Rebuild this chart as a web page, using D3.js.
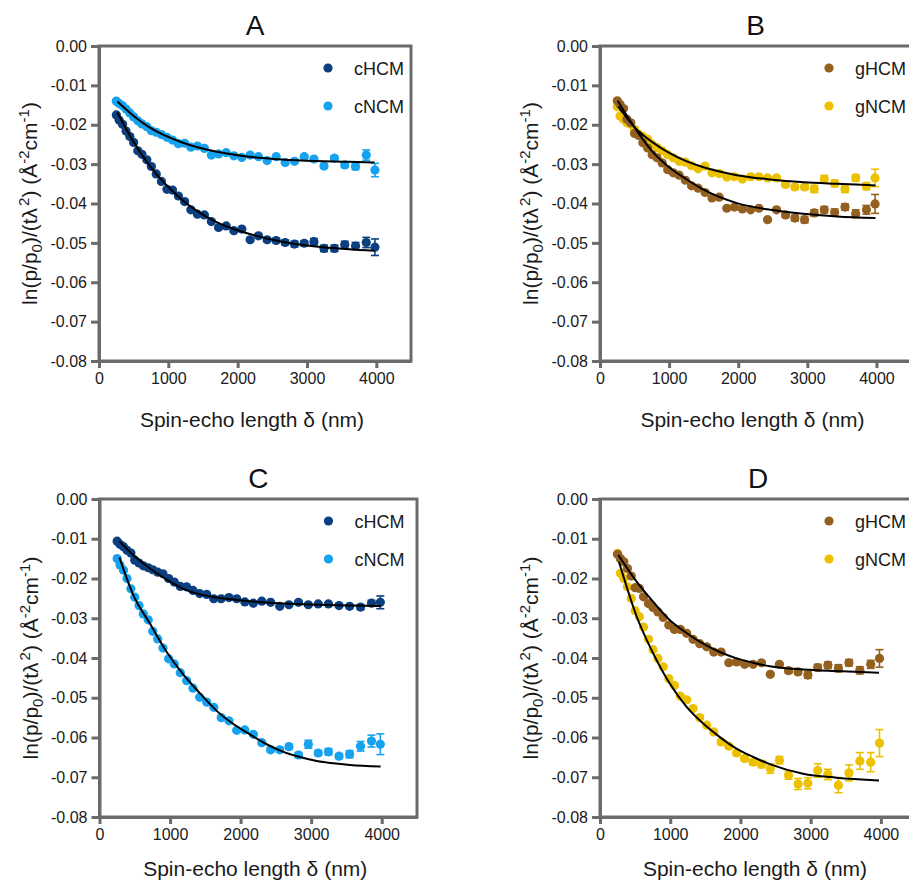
<!DOCTYPE html>
<html>
<head>
<meta charset="utf-8">
<script src="https://cdn.jsdelivr.net/npm/d3@7"></script>
<style>
  body { margin: 0; background: #fff; }
  svg { display: block; }
</style>
</head>
<body>
<svg id="chart" width="909" height="889"></svg>
<script>
// Spin-echo lengths (nm), shared by every series
const delta = [250, 290, 340, 390, 445, 500, 560, 620, 690, 755,
  825, 900, 980, 1060, 1145, 1235, 1325, 1420, 1520, 1620,
  1725, 1835, 1945, 2060, 2180, 2300, 2425, 2555, 2685, 2820,
  2960, 3100, 3245, 3395, 3545, 3700, 3855, 3980];

const xTicks = [0, 1000, 2000, 3000, 4000];
const yTicks = [0, -0.01, -0.02, -0.03, -0.04, -0.05, -0.06, -0.07, -0.08];

// Panel A
const cHCM_A = [-0.0175, -0.0188, -0.0199, -0.0216, -0.0230, -0.0245, -0.0266, -0.0275, -0.0289, -0.0306,
  -0.0325, -0.0344, -0.0364, -0.0366, -0.0381, -0.0395, -0.0416, -0.0427, -0.0429, -0.0446,
  -0.0461, -0.0457, -0.0469, -0.0465, -0.0492, -0.0482, -0.0492, -0.0494, -0.0499, -0.0503,
  -0.0501, -0.0497, -0.0514, -0.0514, -0.0505, -0.0508, -0.0499, -0.0511];
const cHCM_A_err = [0.0003, 0.0003, 0.0003, 0.0003, 0.0003, 0.0003, 0.0003, 0.0003, 0.0003, 0.0003,
  0.0003, 0.0003, 0.0003, 0.0003, 0.0003, 0.0003, 0.0003, 0.0003, 0.0003, 0.0003,
  0.0003, 0.0003, 0.0003, 0.0004, 0.0004, 0.0004, 0.0005, 0.0005, 0.0006, 0.0007,
  0.0006, 0.0008, 0.0008, 0.0008, 0.0009, 0.0009, 0.0013, 0.0021];
const cNCM_A = [-0.0140, -0.0146, -0.0152, -0.0160, -0.0170, -0.0180, -0.0190, -0.0198, -0.0205, -0.0215,
  -0.0219, -0.0225, -0.0232, -0.0239, -0.0248, -0.0247, -0.0257, -0.0254, -0.0260, -0.0277,
  -0.0274, -0.0271, -0.0279, -0.0283, -0.0277, -0.0281, -0.0291, -0.0281, -0.0296, -0.0293,
  -0.0281, -0.0287, -0.0305, -0.0285, -0.0302, -0.0306, -0.0277, -0.0315];
const cNCM_A_err = [0.0002, 0.0002, 0.0002, 0.0002, 0.0002, 0.0002, 0.0002, 0.0002, 0.0002, 0.0002,
  0.0002, 0.0002, 0.0002, 0.0002, 0.0002, 0.0002, 0.0002, 0.0002, 0.0002, 0.0002,
  0.0002, 0.0002, 0.0003, 0.0003, 0.0003, 0.0003, 0.0003, 0.0003, 0.0003, 0.0003,
  0.0004, 0.0004, 0.0005, 0.0006, 0.0006, 0.0008, 0.0013, 0.0017];
const fitA_cHCM_x = [266, 482, 722, 1201, 1681, 2161, 2640, 3121, 3600, 3974];
const fitA_cHCM_y = [-0.0169, -0.0239, -0.0302, -0.0391, -0.0446, -0.0477, -0.0497, -0.0509, -0.0516, -0.0520];
const fitA_cNCM_x = [266, 482, 722, 1201, 1681, 2161, 2640, 3121, 3600, 3974];
const fitA_cNCM_y = [-0.0141, -0.0175, -0.0206, -0.0245, -0.0268, -0.0281, -0.0288, -0.0292, -0.0294, -0.0296];

// Panel B
const gHCM_B = [-0.0139, -0.0148, -0.0159, -0.0186, -0.0195, -0.0222, -0.0227, -0.0246, -0.0259, -0.0276,
  -0.0284, -0.0297, -0.0314, -0.0322, -0.0328, -0.0341, -0.0355, -0.0361, -0.0372, -0.0386,
  -0.0384, -0.0412, -0.0409, -0.0414, -0.0416, -0.0412, -0.0441, -0.0416, -0.0429, -0.0437,
  -0.0441, -0.0424, -0.0416, -0.0423, -0.0409, -0.0426, -0.0416, -0.0401];
const gHCM_B_err = [0.0003, 0.0003, 0.0003, 0.0003, 0.0003, 0.0003, 0.0003, 0.0003, 0.0003, 0.0003,
  0.0003, 0.0003, 0.0003, 0.0003, 0.0003, 0.0003, 0.0003, 0.0003, 0.0003, 0.0003,
  0.0003, 0.0003, 0.0003, 0.0003, 0.0003, 0.0003, 0.0003, 0.0004, 0.0006, 0.0007,
  0.0008, 0.0008, 0.0008, 0.0009, 0.0008, 0.0010, 0.0011, 0.0024];
const gNCM_B = [-0.0154, -0.0178, -0.0186, -0.0195, -0.0199, -0.0212, -0.0224, -0.0230, -0.0237, -0.0250,
  -0.0258, -0.0266, -0.0276, -0.0284, -0.0293, -0.0295, -0.0304, -0.0312, -0.0305, -0.0322,
  -0.0324, -0.0333, -0.0332, -0.0338, -0.0332, -0.0332, -0.0335, -0.0335, -0.0352, -0.0358,
  -0.0358, -0.0363, -0.0338, -0.0349, -0.0363, -0.0335, -0.0356, -0.0335];
const gNCM_B_err = [0.0003, 0.0003, 0.0003, 0.0003, 0.0003, 0.0003, 0.0003, 0.0003, 0.0003, 0.0003,
  0.0003, 0.0003, 0.0003, 0.0003, 0.0003, 0.0003, 0.0003, 0.0003, 0.0003, 0.0003,
  0.0003, 0.0003, 0.0003, 0.0003, 0.0003, 0.0003, 0.0003, 0.0004, 0.0005, 0.0006,
  0.0006, 0.0009, 0.0009, 0.0008, 0.0009, 0.0008, 0.0009, 0.0022];
const fitB_gHCM_x = [256, 531, 773, 1014, 1256, 1498, 1981, 2464, 2947, 3430, 3986];
const fitB_gHCM_y = [-0.0139, -0.0215, -0.0271, -0.0310, -0.0339, -0.0365, -0.0399, -0.0416, -0.0426, -0.0433, -0.0437];
const fitB_gNCM_x = [266, 531, 773, 1014, 1256, 1498, 1981, 2464, 2947, 3430, 3986];
const fitB_gNCM_y = [-0.0154, -0.0212, -0.0246, -0.0273, -0.0293, -0.0308, -0.0328, -0.0339, -0.0346, -0.0350, -0.0354];

// Panel C
const cHCM_C = [-0.0106, -0.0114, -0.0120, -0.0129, -0.0136, -0.0154, -0.0161, -0.0168, -0.0173, -0.0178,
  -0.0184, -0.0188, -0.0200, -0.0209, -0.0220, -0.0221, -0.0230, -0.0238, -0.0240, -0.0251,
  -0.0251, -0.0248, -0.0251, -0.0259, -0.0262, -0.0257, -0.0260, -0.0270, -0.0266, -0.0260,
  -0.0266, -0.0264, -0.0264, -0.0268, -0.0270, -0.0272, -0.0262, -0.0260];
const cHCM_C_err = [0.0002, 0.0002, 0.0002, 0.0002, 0.0002, 0.0002, 0.0002, 0.0002, 0.0002, 0.0002,
  0.0002, 0.0002, 0.0002, 0.0002, 0.0002, 0.0002, 0.0002, 0.0002, 0.0002, 0.0002,
  0.0002, 0.0002, 0.0002, 0.0002, 0.0002, 0.0002, 0.0002, 0.0002, 0.0003, 0.0003,
  0.0003, 0.0003, 0.0003, 0.0003, 0.0004, 0.0006, 0.0007, 0.0016];
const cNCM_C = [-0.0150, -0.0166, -0.0179, -0.0200, -0.0226, -0.0247, -0.0268, -0.0289, -0.0304, -0.0333,
  -0.0352, -0.0375, -0.0402, -0.0415, -0.0437, -0.0457, -0.0476, -0.0499, -0.0511, -0.0524,
  -0.0550, -0.0558, -0.0582, -0.0581, -0.0592, -0.0613, -0.0631, -0.0631, -0.0623, -0.0644,
  -0.0617, -0.0639, -0.0636, -0.0647, -0.0642, -0.0622, -0.0609, -0.0617];
const cNCM_C_err = [0.0002, 0.0002, 0.0002, 0.0002, 0.0002, 0.0002, 0.0002, 0.0002, 0.0002, 0.0002,
  0.0002, 0.0002, 0.0002, 0.0002, 0.0002, 0.0002, 0.0002, 0.0002, 0.0003, 0.0003,
  0.0003, 0.0003, 0.0003, 0.0003, 0.0004, 0.0004, 0.0005, 0.0005, 0.0006, 0.0006,
  0.0010, 0.0006, 0.0008, 0.0006, 0.0009, 0.0012, 0.0015, 0.0026];
const fitC_cHCM_x = [282, 480, 717, 953, 1189, 1425, 1661, 2133, 2605, 3078, 3550, 3984];
const fitC_cHCM_y = [-0.0106, -0.0141, -0.0175, -0.0203, -0.0226, -0.0240, -0.0248, -0.0257, -0.0263, -0.0266, -0.0268, -0.0269];
const fitC_cNCM_x = [282, 480, 717, 953, 1189, 1425, 1661, 1897, 2133, 2369, 2605, 2841, 3078, 3314, 3550, 3984];
const fitC_cNCM_y = [-0.0147, -0.0242, -0.0314, -0.0385, -0.0442, -0.0489, -0.0533, -0.0566, -0.0592, -0.0617,
  -0.0636, -0.0649, -0.0659, -0.0665, -0.0669, -0.0673];

// Panel D
const gHCM_D = [-0.0139, -0.0150, -0.0158, -0.0175, -0.0194, -0.0223, -0.0225, -0.0246, -0.0263, -0.0273,
  -0.0284, -0.0298, -0.0317, -0.0328, -0.0328, -0.0338, -0.0353, -0.0364, -0.0372, -0.0385,
  -0.0385, -0.0412, -0.0410, -0.0416, -0.0416, -0.0412, -0.0441, -0.0416, -0.0432, -0.0435,
  -0.0443, -0.0424, -0.0418, -0.0426, -0.0412, -0.0431, -0.0416, -0.0401];
const gHCM_D_err = [0.0003, 0.0003, 0.0003, 0.0003, 0.0003, 0.0003, 0.0003, 0.0003, 0.0003, 0.0003,
  0.0003, 0.0003, 0.0003, 0.0003, 0.0003, 0.0003, 0.0003, 0.0003, 0.0003, 0.0003,
  0.0003, 0.0003, 0.0003, 0.0003, 0.0003, 0.0003, 0.0003, 0.0004, 0.0006, 0.0006,
  0.0008, 0.0008, 0.0008, 0.0009, 0.0008, 0.0009, 0.0010, 0.0022];
const gNCM_D = [-0.0137, -0.0187, -0.0200, -0.0221, -0.0250, -0.0281, -0.0296, -0.0322, -0.0353, -0.0379,
  -0.0401, -0.0422, -0.0452, -0.0469, -0.0496, -0.0505, -0.0527, -0.0550, -0.0569, -0.0586,
  -0.0611, -0.0622, -0.0639, -0.0653, -0.0662, -0.0667, -0.0678, -0.0657, -0.0695, -0.0717,
  -0.0715, -0.0683, -0.0693, -0.0720, -0.0689, -0.0659, -0.0662, -0.0614];
const gNCM_D_err = [0.0003, 0.0003, 0.0003, 0.0003, 0.0003, 0.0003, 0.0003, 0.0003, 0.0003, 0.0003,
  0.0003, 0.0003, 0.0003, 0.0003, 0.0003, 0.0003, 0.0003, 0.0003, 0.0003, 0.0004,
  0.0005, 0.0005, 0.0006, 0.0006, 0.0007, 0.0009, 0.0012, 0.0009, 0.0010, 0.0014,
  0.0014, 0.0017, 0.0013, 0.0019, 0.0020, 0.0021, 0.0024, 0.0034];
const fitD_gHCM_x = [261, 521, 759, 996, 1233, 1470, 1707, 1944, 2181, 2418, 2892, 3367, 3973];
const fitD_gHCM_y = [-0.0141, -0.0208, -0.0259, -0.0305, -0.0337, -0.0364, -0.0385, -0.0401, -0.0412, -0.0421, -0.0429, -0.0433, -0.0437];
const fitD_gNCM_x = [270, 521, 759, 996, 1233, 1470, 1707, 1944, 2181, 2418, 2892, 3367, 3973];
const fitD_gNCM_y = [-0.0158, -0.0295, -0.0389, -0.0465, -0.0523, -0.0565, -0.0599, -0.0628, -0.0649, -0.0667, -0.0691, -0.0701, -0.0708];

const FONT = '"Liberation Sans", Arial, Helvetica, sans-serif';
const AXIS = '#6b6b6b';
const COLORS = {
  cHCM: '#0b3f80',
  cNCM: '#16a2ef',
  gHCM: '#94601f',
  gNCM: '#ebc102'
};

const zip = (a, b) => a.map((v, i) => [v, b[i]]);

const panels = [
  { label: 'A', x0: 99, x1: 411, top: 46, bottom: 361, xTitleY: 427,
    series: [
      { name: 'cHCM', y: cHCM_A, err: cHCM_A_err, fit: zip(fitA_cHCM_x, fitA_cHCM_y) },
      { name: 'cNCM', y: cNCM_A, err: cNCM_A_err, fit: zip(fitA_cNCM_x, fitA_cNCM_y) }
    ] },
  { label: 'B', x0: 600, x1: 911, top: 46, bottom: 361, xTitleY: 427,
    series: [
      { name: 'gHCM', y: gHCM_B, err: gHCM_B_err, fit: zip(fitB_gHCM_x, fitB_gHCM_y) },
      { name: 'gNCM', y: gNCM_B, err: gNCM_B_err, fit: zip(fitB_gNCM_x, fitB_gNCM_y) }
    ] },
  { label: 'C', x0: 99.5, x1: 417, top: 499, bottom: 817, xTitleY: 876,
    series: [
      { name: 'cHCM', y: cHCM_C, err: cHCM_C_err, fit: zip(fitC_cHCM_x, fitC_cHCM_y) },
      { name: 'cNCM', y: cNCM_C, err: cNCM_C_err, fit: zip(fitC_cNCM_x, fitC_cNCM_y) }
    ] },
  { label: 'D', x0: 600, x1: 916, top: 499, bottom: 817, xTitleY: 876,
    series: [
      { name: 'gHCM', y: gHCM_D, err: gHCM_D_err, fit: zip(fitD_gHCM_x, fitD_gHCM_y) },
      { name: 'gNCM', y: gNCM_D, err: gNCM_D_err, fit: zip(fitD_gNCM_x, fitD_gNCM_y) }
    ] }
];

const svg = d3.select('#chart').attr('font-family', FONT);

panels.forEach(drawPanel);

function drawPanel(p) {
  const x = d3.scaleLinear().domain([0, 4500]).range([p.x0, p.x1]);
  const y = d3.scaleLinear().domain([-0.08, 0]).range([p.bottom, p.top]);
  const g = svg.append('g');

  // frame round the plot
  g.append('rect')
    .attr('x', p.x0).attr('y', p.top)
    .attr('width', p.x1 - p.x0).attr('height', p.bottom - p.top)
    .attr('fill', 'none')
    .attr('stroke', AXIS)
    .attr('stroke-width', 3);

  const yAxis = g.append('g')
    .attr('transform', `translate(${p.x0},0)`)
    .call(d3.axisLeft(y).tickValues(yTicks).tickFormat(d => d.toFixed(2))
      .tickSize(8).tickSizeOuter(0).tickPadding(4));

  const xAxis = g.append('g')
    .attr('transform', `translate(0,${p.bottom})`)
    .call(d3.axisBottom(x).tickValues(xTicks).tickFormat(d3.format('d'))
      .tickSize(7).tickSizeOuter(0).tickPadding(5));

  [yAxis, xAxis].forEach(a => {
    a.attr('font-family', FONT).attr('font-size', 16);
    a.select('.domain').attr('stroke', AXIS).attr('stroke-width', 3);
    a.selectAll('.tick line').attr('stroke', AXIS).attr('stroke-width', 3);
    a.selectAll('.tick text').attr('fill', '#1a1a1a');
  });

  // series: second one first so the HCM points sit on top
  const order = [p.series[1], p.series[0]];
  order.forEach(s => {
    const color = COLORS[s.name];
    const pts = delta.map((d, i) => ({ x: d, y: s.y[i], e: s.err[i] }));
    const eg = g.append('g').attr('stroke', color).attr('stroke-width', 1.6);
    pts.forEach(d => {
      const cx = x(d.x), y1 = y(d.y - d.e), y2 = y(d.y + d.e);
      eg.append('line').attr('x1', cx).attr('x2', cx).attr('y1', y1).attr('y2', y2);
      eg.append('line').attr('x1', cx - 4).attr('x2', cx + 4).attr('y1', y1).attr('y2', y1);
      eg.append('line').attr('x1', cx - 4).attr('x2', cx + 4).attr('y1', y2).attr('y2', y2);
    });
    g.append('g').selectAll('circle')
      .data(pts)
      .join('circle')
      .attr('cx', d => x(d.x))
      .attr('cy', d => y(d.y))
      .attr('r', 4.6)
      .attr('fill', color);
  });

  // fitted curves on top of the points
  const line = d3.line()
    .x(d => x(d[0]))
    .y(d => y(d[1]))
    .curve(d3.curveMonotoneX);
  p.series.forEach(s => {
    g.append('path')
      .attr('d', line(s.fit))
      .attr('fill', 'none')
      .attr('stroke', '#000')
      .attr('stroke-width', 2);
  });

  // legend
  const lx = p.x0 + 229, ly = p.top + 22;
  p.series.forEach((s, i) => {
    g.append('circle')
      .attr('cx', lx).attr('cy', ly + i * 38)
      .attr('r', 4.6)
      .attr('fill', COLORS[s.name]);
    g.append('text')
      .attr('x', lx + 26).attr('y', ly + i * 38 + 6.5)
      .attr('font-size', 18)
      .attr('fill', '#1a1a1a')
      .text(s.name);
  });

  // panel letter
  g.append('text')
    .attr('x', (p.x0 + p.x1) / 2).attr('y', p.top - 11)
    .attr('text-anchor', 'middle')
    .attr('font-size', 28)
    .attr('fill', '#111')
    .text(p.label);

  // x title
  g.append('text')
    .attr('x', (p.x0 + p.x1) / 2 - 3).attr('y', p.xTitleY)
    .attr('text-anchor', 'middle')
    .attr('font-size', 21)
    .attr('fill', '#1a1a1a')
    .text('Spin-echo length δ (nm)');

  // y title with sub/superscripts
  const yt = g.append('text')
    .attr('transform', `translate(${p.x0 - 62},${(p.top + p.bottom) / 2}) rotate(-90)`)
    .attr('text-anchor', 'middle')
    .attr('font-size', 21)
    .attr('fill', '#1a1a1a');
  const parts = [
    ['ln(p/p', 0], ['0', 5], [')/(tλ', 0], ['2', -8], [') (Å', 0],
    ['-2', -8], ['cm', 0], ['-1', -8], [')', 0]
  ];
  let shift = 0;
  parts.forEach(([t, s]) => {
    const ts = yt.append('tspan').attr('dy', s - shift).text(t);
    if (s !== 0) ts.attr('font-size', 15);
    if (t === '2' && s < 0) ts.attr('dx', 2);
    shift = s;
  });
}
</script>
</body>
</html>
